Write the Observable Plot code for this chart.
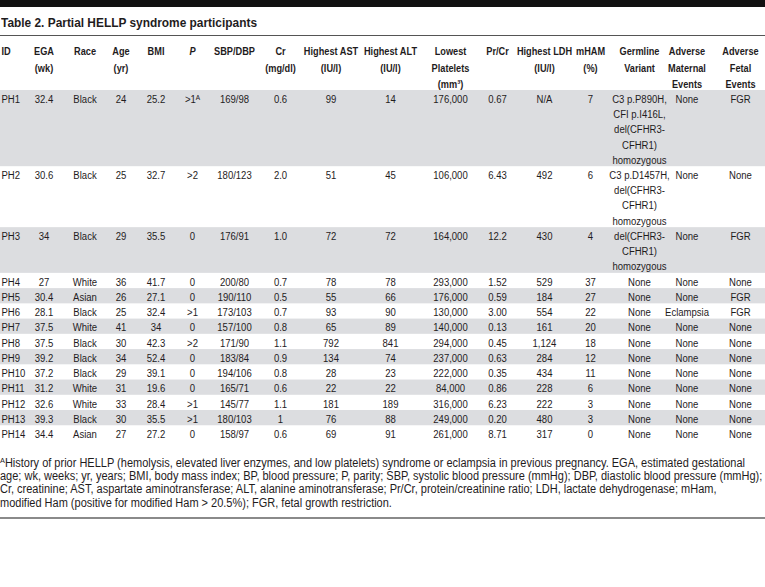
<!DOCTYPE html>
<html>
<head>
<meta charset="utf-8">
<script src="https://cdn.jsdelivr.net/npm/d3@7"></script>
<script src="https://cdn.jsdelivr.net/npm/@observablehq/plot@0.6"></script>
<style>
  html, body { margin: 0; padding: 0; background: #fff; }
  body { width: 765px; height: 587px; position: relative; overflow: hidden; color: #1f1c1d;
         font-family: 'Liberation Sans', Arial, sans-serif; }
  #bar { position: absolute; left: 0; top: 0; width: 765px; height: 7px; background: #111; }
  #title { position: absolute; left: 1px; top: 15.5px; font-weight: bold; font-size: 13px; line-height: 13px; white-space: nowrap; transform-origin: 0 0; }
  #rule1 { position: absolute; left: 0; top: 34.5px; width: 765px; border-top: 1.4px solid #555; }
  #chart { position: absolute; left: 0; top: 37px; }
  #foot { position: absolute; left: 0; top: 456.5px; font-size: 12px; line-height: 13.4px; white-space: nowrap; transform-origin: 0 0; }
  #foot div { width: max-content; }
  #foot sup { font-size: 8px; vertical-align: 4px; line-height: 0; }
  #rule2 { position: absolute; left: 0; top: 517px; width: 765px; border-top: 2px solid #8a8a8a; }
</style>
</head>
<body>
<div id="bar"></div>
<div id="title">Table 2. Partial HELLP syndrome participants</div>
<div id="rule1"></div>
<div id="chart"></div>
<div id="foot">
<div id="f1"><sup>A</sup>History of prior HELLP (hemolysis, elevated liver enzymes, and low platelets) syndrome or eclampsia in previous pregnancy. EGA, estimated gestational</div>
<div>age; wk, weeks; yr, years; BMI, body mass index; BP, blood pressure; P, parity; SBP, systolic blood pressure (mmHg); DBP, diastolic blood pressure (mmHg);</div>
<div>Cr, creatinine; AST, aspartate aminotransferase; ALT, alanine aminotransferase; Pr/Cr, protein/creatinine ratio; LDH, lactate dehydrogenase; mHam,</div>
<div>modified Ham (positive for modified Ham &gt; 20.5%); FGR, fetal growth restriction.</div>
</div>
<div id="rule2"></div>
<script>
// ---- data ----
const headers = ["ID", "EGA\n(wk)", "Race", "Age\n(yr)", "BMI", "P", "SBP/DBP", "Cr\n(mg/dl)",
  "Highest AST\n(IU/l)", "Highest ALT\n(IU/l)", "Lowest\nPlatelets\n(mm³)", "Pr/Cr",
  "Highest LDH\n(IU/l)", "mHAM\n(%)", "Germline\nVariant", "Adverse\nMaternal\nEvents", "Adverse\nFetal\nEvents"];
const ids = ["PH1","PH2","PH3","PH4","PH5","PH6","PH7","PH8","PH9","PH10","PH11","PH12","PH13","PH14"];
const ega = ["32.4","30.6","34","27","30.4","28.1","37.5","37.5","39.2","37.2","31.2","32.6","39.3","34.4"];
const race = ["Black","Black","Black","White","Asian","Black","White","Black","Black","Black","White","White","Black","Asian"];
const age = ["24","25","29","36","26","25","41","30","34","29","31","33","30","27"];
const bmi = ["25.2","32.7","35.5","41.7","27.1","32.4","34","42.3","52.4","39.1","19.6","28.4","35.5","27.2"];
const parity = [">1ᴬ",">2","0","0","0",">1","0",">2","0","0","0",">1",">1","0"];
const sbpdbp = ["169/98","180/123","176/91","200/80","190/110","173/103","157/100","171/90","183/84","194/106","165/71","145/77","180/103","158/97"];
const cr = ["0.6","2.0","1.0","0.7","0.5","0.7","0.8","1.1","0.9","0.8","0.6","1.1","1","0.6"];
const ast = ["99","51","72","78","55","93","65","792","134","28","22","181","76","69"];
const alt = ["14","45","72","78","66","90","89","841","74","23","22","189","88","91"];
const platelets = ["176,000","106,000","164,000","293,000","176,000","130,000","140,000","294,000","237,000","222,000","84,000","316,000","249,000","261,000"];
const prcr = ["0.67","6.43","12.2","1.52","0.59","3.00","0.13","0.45","0.63","0.35","0.86","6.23","0.20","8.71"];
const ldh = ["N/A","492","430","529","184","554","161","1,124","284","434","228","222","480","317"];
const mham = ["7","6","4","37","27","22","20","18","12","11","6","3","3","0"];
const germline = ["C3 p.P890H,\nCFI p.I416L,\ndel(CFHR3-\nCFHR1)\nhomozygous",
  "C3 p.D1457H,\ndel(CFHR3-\nCFHR1)\nhomozygous",
  "del(CFHR3-\nCFHR1)\nhomozygous",
  "None","None","None","None","None","None","None","None","None","None","None"];
const maternal = ["None","None","None","None","None","Eclampsia","None","None","None","None","None","None","None","None"];
const fetal = ["FGR","None","FGR","None","FGR","FGR","None","None","None","None","None","None","None","None"];

// ---- layout (column centres, px) ----
const columns = [ids, ega, race, age, bmi, parity, sbpdbp, cr, ast, alt, platelets, prcr, ldh, mham, germline, maternal, fetal];
const colX = [1, 43.5, 84.5, 120.5, 155.5, 192, 234, 280, 330.5, 390, 450, 497, 544, 590, 639, 686.5, 740];

// rows: start line, line count
let cum = 0;
const rows = ids.map((id, i) => {
  const n = d3.max(columns, c => c[i].split("\n").length);
  const r = {i, start: cum, end: cum + n, shade: i % 2 === 0};
  cum += n;
  return r;
});
const totalLines = cum;

const cells = [];
rows.forEach(r => columns.forEach((c, j) => cells.push({col: j, x: colX[j], y: r.start, text: c[r.i]})));
const heads = headers.map((h, j) => ({col: j, x: colX[j], y: -3, text: h}));

const FONT = "'Liberation Sans', Arial, sans-serif";
const INK = "#1f1c1d";
const bodyOpts = {x: "x", y: "y", text: "text", lineAnchor: "top", fontSize: 11.5, lineHeight: 15.24 / 11.5, dy: 1.5, fill: INK, className: "body-t"};
const headOpts = {x: "x", y: "y", text: "text", lineAnchor: "top", fontSize: 11.5, lineHeight: 16.3 / 11.5, dy: -1, fill: INK, fontWeight: "bold", className: "head-t"};

const chart = Plot.plot({
  width: 765,
  height: 408,
  margin: 0,
  x: {type: "identity", axis: null},
  y: {domain: [0, totalLines], range: [53, 403.5], axis: null},
  style: {fontFamily: FONT, background: "transparent", color: INK},
  marks: [
    Plot.rect(rows.filter(r => r.shade), {y1: "start", y2: "end", fill: "#dcdde0"}),
    Plot.text(heads.filter(d => d.col === 0), {...headOpts, textAnchor: "start"}),
    Plot.text(heads.filter(d => d.col !== 0 && d.col !== 5), {...headOpts, textAnchor: "middle"}),
    Plot.text(heads.filter(d => d.col === 5), {...headOpts, textAnchor: "middle", fontStyle: "italic"}),
    Plot.text(cells.filter(d => d.col === 0), {...bodyOpts, textAnchor: "start"}),
    Plot.text(cells.filter(d => d.col !== 0), {...bodyOpts, textAnchor: "middle"})
  ]
});

// condense glyphs horizontally (the reference uses a narrow face)
function condense(sel, s) {
  sel.each(function() {
    const x = this.getAttribute("x");
    let t = this.getAttribute("transform") || "";
    if (x != null) {
      t += ` translate(${+x || 0},0)`;
      this.removeAttribute("x");
    }
    this.setAttribute("transform", `${t} scale(${s},1)`);
  });
}
condense(d3.select(chart).selectAll("g.head-t text"), 0.8);
condense(d3.select(chart).selectAll("g.body-t text"), 0.83);
document.getElementById("chart").appendChild(chart);

// fit title and footnote widths to the reference
const title = document.getElementById("title");
title.style.transform = `scaleX(${256 / title.getBoundingClientRect().width})`;
const foot = document.getElementById("foot");
const f1 = document.getElementById("f1");
foot.style.transform = `scaleX(${745 / f1.getBoundingClientRect().width})`;
</script>
</body>
</html>
